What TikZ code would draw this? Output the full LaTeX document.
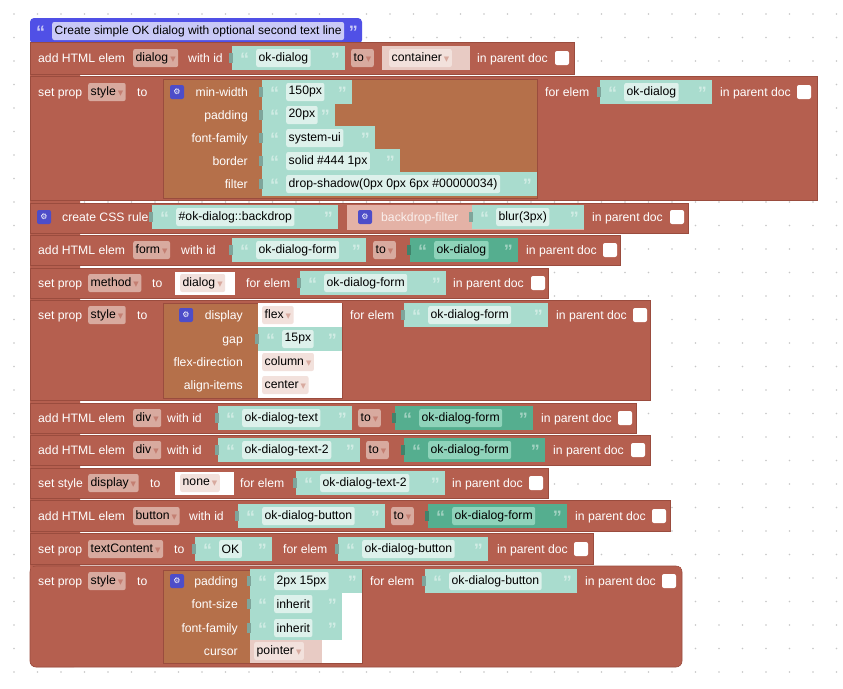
\documentclass[tikz,border=0pt]{standalone}
\usepackage{fontspec}
\setmainfont{Liberation Sans}
\newfontfamily\symf{DejaVu Sans}
\definecolor{brn}{HTML}{B55F4F}
\definecolor{brnd}{HTML}{9A4C3E}
\definecolor{sty}{HTML}{B5704A}
\definecolor{tealL}{HTML}{A9DCCE}
\definecolor{tealF}{HTML}{DDF1EB}
\definecolor{tealD}{HTML}{55AE8F}
\definecolor{tealDF}{HTML}{8FD3BA}
\definecolor{ddf}{HTML}{D8AA9F}
\definecolor{litf}{HTML}{F2E1DC}
\definecolor{blu}{HTML}{5050E6}
\definecolor{bluf}{HTML}{C9C9F7}
\definecolor{gear}{HTML}{4D4DC9}
\definecolor{pinkb}{HTML}{E4B2A6}
\tikzset{
 lbl/.style={text=white,inner sep=0pt,anchor=base west,font=\fontsize{12.2}{14}\selectfont,yshift=-4.5pt},
 lblr/.style={lbl,anchor=base east},
 row/.style={fill=brn,draw=brnd,line width=0.6pt},
 fld/.style={inner sep=2.5pt,rounded corners=2pt,anchor=west,text=black,font=\fontsize{12.2}{14}\selectfont,minimum height=18pt},
 qt/.style={inner sep=0pt,font=\bfseries\fontsize{18}{18}\selectfont,yshift=-1pt},
}
\newcommand\st[4]{\strc{tealL}{tealF}{#1}{#2}{#3}{#4}}
\newcommand\sd[4]{\strc{tealD}{tealDF}{#1}{#2}{#3}{#4}}
\newcommand\strc[6]{%
 \fill[#1] (#3,#5-12) rectangle (#4,#5+12);
 \fill[#1!75!black] (#3-3,#5-5) rectangle (#3+1,#5+5);
 \node[qt,text=white!45!#1,anchor=west] at (#3+8,#5) {“};
 \node[qt,text=white!45!#1,anchor=east] at (#4-5,#5) {”};
 \node[fld,fill=#2] at (#3+24,#5) {#6};
}
\newcommand\arr{\,{\symf\fontsize{7}{7}\selectfont\color{brn!80}▼}}
\newcommand\arl{\,{\symf\fontsize{7}{7}\selectfont\color{ddf}▼}}
\newcommand\dd[3]{\node[fld,fill=ddf] at (#1,#2) {#3\arr};}
\newcommand\cb[2]{\fill[white,rounded corners=2pt] (#1,#2-7) rectangle (#1+14,#2+7);}
\newcommand\gr[2]{\node[fill=gear,text=white,rounded corners=2pt,inner sep=1pt,minimum size=14pt,font=\symf\footnotesize] at (#1,#2) {⚙};}
\newcommand\tx[3]{\node[lbl] at (#1,#2) {#3};}
\newcommand\txr[3]{\node[lblr] at (#1,#2) {#3};}
\begin{document}
\begin{tikzpicture}[x=1pt,y=-1pt]
\useasboundingbox (0,0) rectangle (843,688);
\fill[white] (0,0) rectangle (843,688);
\foreach \i in {0,...,35}{\foreach \j in {0,...,28}{\fill[gray!45] (14+\i*23.5,14+\j*23.5) circle (0.8);}}
% title
\fill[blu,rounded corners=4pt] (30,18) rectangle (362,44);
\node[qt,text=bluf,anchor=west] at (36,31) {“};
\node[fld,fill=bluf,font=\fontsize{12}{14}\selectfont] at (52,31) {Create simple OK dialog with optional second text line};
\node[qt,text=bluf,anchor=east] at (358,31) {”};
% left spine
\fill[brn,rounded corners=6pt] (30,42) rectangle (80,667);
% row 1
\draw[row] (30,42) rectangle (574,74);
\tx{38}{58}{add HTML elem}\dd{133}{58}{dialog}\tx{188}{58}{with id}
\st{232}{345}{58}{ok-dialog}\dd{351}{58}{to}
\fill[litf!60!ddf] (382,46) rectangle (470,70);
\node[fld,fill=litf] at (389,58) {container\arl};
\tx{477}{58}{in parent doc}\cb{555}{58}
% row 2
\draw[row] (30,76) rectangle (817,200);
\tx{38}{92}{set prop}\dd{88}{92}{style}\tx{137}{92}{to}
\fill[sty,draw=brnd] (163,79) rectangle (537,198);
\gr{177}{92}
\txr{248}{92}{min-width}\txr{248}{115}{padding}\txr{248}{138}{font-family}\txr{248}{161}{border}\txr{248}{184}{filter}
\st{262}{352}{92}{150px}\st{262}{335}{115}{20px}\st{262}{375}{138}{system-ui}\st{262}{400}{161}{solid \#444 1px}\st{262}{537}{184}{drop-shadow(0px 0px 6px \#00000034)}
\tx{545}{92}{for elem}\st{600}{712}{92}{ok-dialog}\tx{720}{92}{in parent doc}\cb{797}{92}
% row 3
\draw[row] (30,203) rectangle (688,233);
\gr{44}{217}\tx{62}{217}{create CSS rule}
\st{152}{338}{217}{\#ok-dialog::backdrop}
\fill[pinkb] (347,205) rectangle (584,230);
\gr{365}{217}\node[lbl,text=white!80!pinkb] at (381,217) {backdrop-filter};
\st{472}{584}{217}{blur(3px)}
\tx{592}{217}{in parent doc}\cb{670}{217}
% row 4
\draw[row] (30,235) rectangle (620,265);
\tx{38}{250}{add HTML elem}\dd{133}{250}{form}\tx{181}{250}{with id}
\st{232}{366}{250}{ok-dialog-form}\dd{373}{250}{to}\sd{410}{518}{250}{ok-dialog}
\tx{526}{250}{in parent doc}\cb{603}{250}
% row 5
\draw[row] (30,268) rectangle (548,298);
\tx{38}{283}{set prop}\dd{88}{283}{method}\tx{152}{283}{to}
\fill[white] (175,272) rectangle (235,295);\node[fld,fill=litf] at (180,283) {dialog\arl};
\tx{246}{283}{for elem}\st{300}{446}{283}{ok-dialog-form}\tx{453}{283}{in parent doc}\cb{531}{283}
% row 6
\draw[row] (30,300) rectangle (650,400);
\tx{38}{315}{set prop}\dd{88}{315}{style}\tx{137}{315}{to}
\fill[sty,draw=brnd] (163,303) rectangle (342,398);
\fill[white] (258,303) rectangle (342,398);
\gr{186}{315}
\txr{243}{315}{display}\txr{243}{339}{gap}\txr{243}{362}{flex-direction}\txr{243}{385}{align-items}
\node[fld,fill=litf] at (262,315) {flex\arl};
\st{258}{342}{339}{15px}
\node[fld,fill=litf] at (262,362) {column\arl};
\node[fld,fill=litf] at (262,385) {center\arl};
\tx{350}{315}{for elem}\st{404}{548}{315}{ok-dialog-form}\tx{556}{315}{in parent doc}\cb{633}{315}
% row 7
\draw[row] (30,403) rectangle (636,433);
\tx{38}{418}{add HTML elem}\dd{133}{418}{div}\tx{167}{418}{with id}
\st{218}{352}{418}{ok-dialog-text}\dd{358}{418}{to}\sd{395}{533}{418}{ok-dialog-form}
\tx{541}{418}{in parent doc}\cb{618}{418}
% row 8
\draw[row] (30,435) rectangle (650,465);
\tx{38}{450}{add HTML elem}\dd{133}{450}{div}\tx{167}{450}{with id}
\st{218}{360}{450}{ok-dialog-text-2}\dd{366}{450}{to}\sd{404}{545}{450}{ok-dialog-form}
\tx{553}{450}{in parent doc}\cb{631}{450}
% row 9
\draw[row] (30,468) rectangle (548,498);
\tx{38}{483}{set style}\dd{88}{483}{display}\tx{150}{483}{to}
\fill[white] (175,472) rectangle (234,495);\node[fld,fill=litf] at (180,483) {none\arl};
\tx{240}{483}{for elem}\st{296}{445}{483}{ok-dialog-text-2}\tx{452}{483}{in parent doc}\cb{529}{483}
% row 10
\draw[row] (30,500) rectangle (670,531);
\tx{38}{516}{add HTML elem}\dd{133}{516}{button}\tx{189}{516}{with id}
\st{238}{385}{516}{ok-dialog-button}\dd{391}{516}{to}\sd{428}{567}{516}{ok-dialog-form}
\tx{575}{516}{in parent doc}\cb{652}{516}
% row 11
\draw[row] (30,533) rectangle (593,564);
\tx{38}{549}{set prop}\dd{88}{549}{textContent}\tx{174}{549}{to}
\st{195}{272}{549}{OK}\tx{283}{549}{for elem}\st{338}{488}{549}{ok-dialog-button}
\tx{497}{549}{in parent doc}\cb{574}{549}
% row 12
\draw[row,rounded corners=6pt] (30,566) rectangle (682,667);
\fill[brn] (31,566.5) rectangle (681,575);
\tx{38}{581}{set prop}\dd{88}{581}{style}\tx{137}{581}{to}
\fill[sty,draw=brnd] (163,570) rectangle (362,663);
\fill[white] (250,593) rectangle (362,663);
\gr{177}{581}
\txr{238}{581}{padding}\txr{238}{604}{font-size}\txr{238}{628}{font-family}\txr{238}{651}{cursor}
\st{250}{362}{581}{2px 15px}\st{250}{342}{604}{inherit}\st{250}{342}{628}{inherit}
\fill[litf!60!ddf] (250,640) rectangle (322,663);
\node[fld,fill=litf] at (254,651) {pointer\arl};
\tx{370}{581}{for elem}\st{425}{577}{581}{ok-dialog-button}\tx{585}{581}{in parent doc}\cb{662}{581}
\end{tikzpicture}
\end{document}
